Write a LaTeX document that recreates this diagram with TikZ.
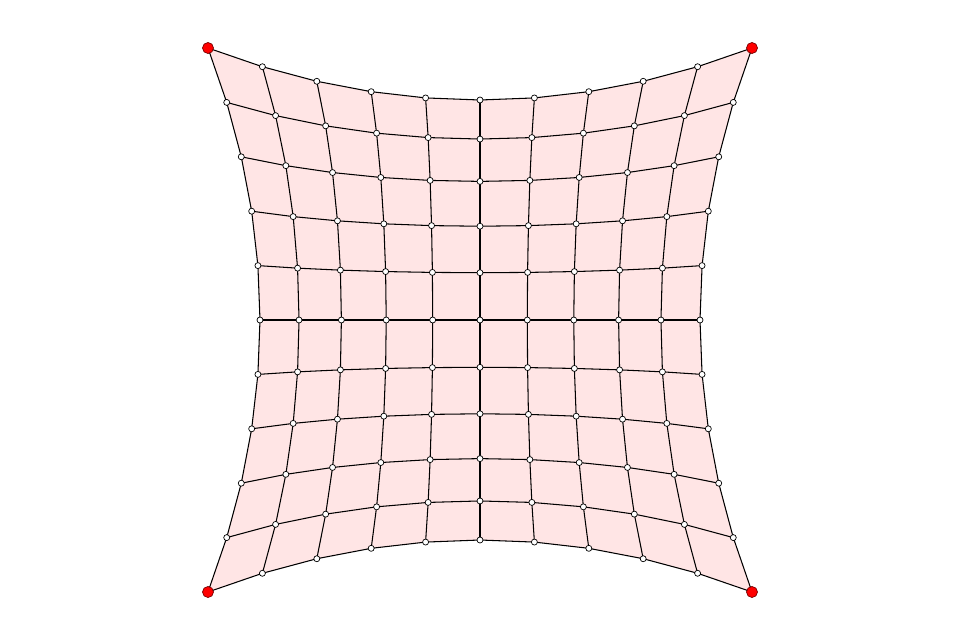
\documentclass[tikz,border=0pt]{standalone}
\usepackage{tikz}

\definecolor{meshpink}{RGB}{255,229,229}
\definecolor{pindark}{RGB}{120,0,0}

\tikzset{
  vertex/.style={circle, draw=black, fill=white, inner sep=0pt, minimum size=0.12cm, line width=0.4pt},
  pinned/.style={circle, draw=pindark, fill=red, inner sep=0pt, minimum size=0.22cm, line width=0.4pt},
  cell/.style={fill=meshpink},
  spring/.style={draw=black, line width=0.6pt, line cap=round}
}

\begin{document}
\begin{tikzpicture}[x=0.02cm, y=0.02cm]
  \useasboundingbox (-480,-320) rectangle (480,320);
  % grid positions
  \foreach \i in {0,...,10}{
    \foreach \j in {0,...,10}{
      \pgfmathsetmacro{\u}{(\i-5)/5}
      \pgfmathsetmacro{\v}{(\j-5)/5}
      \pgfmathsetmacro{\px}{\u*(237.2+34.8*\v*\v)-17.2*\u*\u*\u*(1-\v*\v)}
      \pgfmathsetmacro{\py}{\v*(237.2+34.8*\u*\u)-17.2*\v*\v*\v*(1-\u*\u)}
      \coordinate (p-\i-\j) at (\px,\py);
    }
  }
  % cells
  \foreach \i in {0,...,9}{
    \foreach \j in {0,...,9}{
      \pgfmathtruncatemacro{\ii}{\i+1}
      \pgfmathtruncatemacro{\jj}{\j+1}
      \fill[cell] (p-\i-\j) -- (p-\ii-\j) -- (p-\ii-\jj) -- (p-\i-\jj) -- cycle;
    }
  }
  % springs
  \foreach \k in {0,...,10}{
    \foreach \m in {0,...,9}{
      \pgfmathtruncatemacro{\mm}{\m+1}
      \draw[spring] (p-\m-\k) -- (p-\mm-\k);
      \draw[spring] (p-\k-\m) -- (p-\k-\mm);
    }
  }
  % nodes
  \foreach \i in {0,...,10}{
    \foreach \j in {0,...,10}{
      \pgfmathtruncatemacro{\corner}{((\i==0)||(\i==10))&&((\j==0)||(\j==10))}
      \ifnum\corner=1
        \node[pinned] (n-\i-\j) at (p-\i-\j) {};
      \else
        \node[vertex] (n-\i-\j) at (p-\i-\j) {};
      \fi
    }
  }
\end{tikzpicture}
\end{document}
